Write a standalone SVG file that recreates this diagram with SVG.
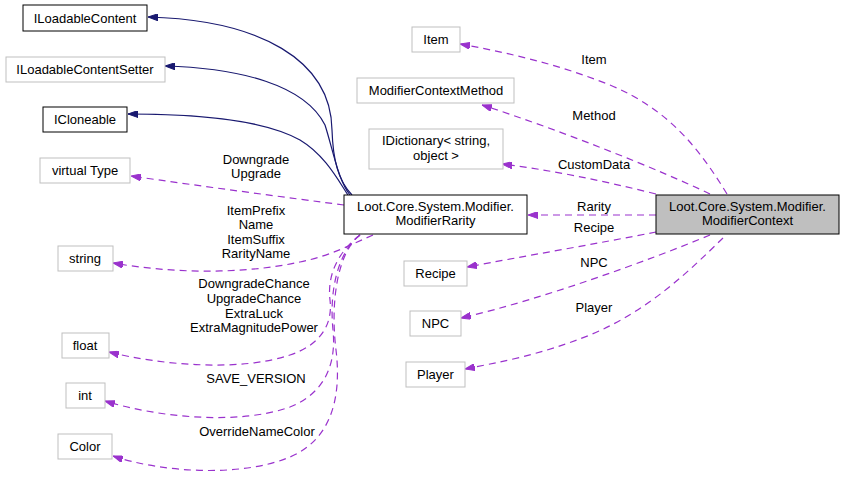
<svg xmlns="http://www.w3.org/2000/svg" width="845" height="478" viewBox="0 0 845 478">
<defs>
<style>
text{font-family:"Liberation Sans",Arial,sans-serif;font-size:13px;fill:#000;text-anchor:middle}
.n{fill:#fff;stroke:#000;stroke-width:1}
.g{fill:#fff;stroke:#bfbfbf;stroke-width:1}
.cur{fill:#bfbfbf;stroke:#000;stroke-width:1}
.inh{fill:none;stroke:#191970;stroke-width:1.2;marker-end:url(#ah)}
.use{fill:none;stroke:#9a32cd;stroke-width:1.2;stroke-dasharray:7,5;marker-end:url(#ap)}
</style>
<marker id="ah" viewBox="0 0 10 7" refX="10" refY="3.5" markerWidth="10" markerHeight="7" markerUnits="userSpaceOnUse" orient="auto"><path d="M0,0 L10,3.5 L0,7 z" fill="#191970" stroke="#191970"/></marker>
<marker id="ap" viewBox="0 0 10 7" refX="10" refY="3.5" markerWidth="10" markerHeight="7" markerUnits="userSpaceOnUse" orient="auto"><path d="M0,0 L10,3.5 L0,7 z" fill="#9a32cd" stroke="#9a32cd"/></marker>
</defs>
<rect width="845" height="478" fill="#fff"/>
<g id="edges">
<path class="inh" d="M352,195 C338,180 333,160 332,130 C331,60 260,20 148,17"/>
<path class="inh" d="M350,195 C338,180 333,150 325,125 C305,85 240,68 165,66"/>
<path class="inh" d="M348,195 C338,180 325,155 300,140 C260,118 190,114 128,114"/>
<path class="use" d="M344,205 C290,198 200,186 131,176"/>
<path class="use" d="M373,235 C350,245 330,256 300,262 C240,275 170,273 113,263"/>
<path class="use" d="M360,235 C338,252 327,275 330,300 C333,325 320,345 290,355 C240,372 160,365 109,352"/>
<path class="use" d="M360,235 C338,252 329,290 333,330 C337,370 320,395 290,407 C240,425 160,418 105,401"/>
<path class="use" d="M360,235 C338,252 330,300 336,350 C342,400 330,440 290,457 C240,478 160,472 113,456"/>
<path class="use" d="M727,194 C700,150 670,110 610,85 C560,65 510,53 460,44"/>
<path class="use" d="M710,194 C660,170 560,130 482,105"/>
<path class="use" d="M656,194 C600,180 550,170 502,164"/>
<path class="use" d="M656,215 L528,215"/>
<path class="use" d="M656,232 C600,243 520,257 467,267"/>
<path class="use" d="M710,235 C650,260 540,300 461,318"/>
<path class="use" d="M723,238 C690,270 650,310 590,335 C540,355 500,362 465,369"/>
<text x="256" y="164">Downgrade</text><text x="256" y="178">Upgrade</text>
<text x="256" y="215">ItemPrefix</text><text x="256" y="229">Name</text><text x="256" y="244">ItemSuffix</text><text x="256" y="258">RarityName</text>
<text x="254" y="288">DowngradeChance</text><text x="254" y="303">UpgradeChance</text><text x="254" y="318">ExtraLuck</text><text x="254" y="332">ExtraMagnitudePower</text>
<text x="256" y="383">SAVE_VERSION</text>
<text x="257" y="436">OverrideNameColor</text>
<text x="594" y="64">Item</text>
<text x="594" y="120">Method</text>
<text x="594" y="169">CustomData</text>
<text x="594" y="211">Rarity</text>
<text x="594" y="232">Recipe</text>
<text x="594" y="267">NPC</text>
<text x="594" y="312">Player</text>
</g>
<g id="ILoadableContent"><rect class="n" x="23" y="5" width="124" height="26"/><text x="85" y="23">ILoadableContent</text></g>
<g id="ILoadableContentSetter"><rect class="g" x="6" y="57" width="159" height="25"/><text x="85" y="74">ILoadableContentSetter</text></g>
<g id="ICloneable"><rect class="n" x="43" y="107" width="84" height="25"/><text x="85" y="124">ICloneable</text></g>
<g id="virtualType"><rect class="g" x="40" y="158" width="90" height="25"/><text x="85" y="175">virtual Type</text></g>
<g id="string"><rect class="g" x="58" y="246" width="55" height="25"/><text x="85" y="263">string</text></g>
<g id="float"><rect class="g" x="62" y="333" width="47" height="25"/><text x="85" y="350">float</text></g>
<g id="int"><rect class="g" x="66" y="383" width="39" height="25"/><text x="85" y="400">int</text></g>
<g id="Color"><rect class="g" x="58" y="434" width="54" height="25"/><text x="85" y="451">Color</text></g>
<g id="Item"><rect class="g" x="412" y="27" width="48" height="25"/><text x="436" y="44">Item</text></g>
<g id="ModifierContextMethod"><rect class="g" x="357" y="78" width="157" height="25"/><text x="436" y="95">ModifierContextMethod</text></g>
<g id="IDictionary"><rect class="g" x="369" y="129" width="134" height="40"/><text x="436" y="145">IDictionary&lt; string,</text><text x="436" y="160">object &gt;</text></g>
<g id="ModifierRarity"><rect class="n" x="344" y="195" width="183" height="39"/><text x="435.5" y="211">Loot.Core.System.Modifier.</text><text x="435.5" y="225">ModifierRarity</text></g>
<g id="ModifierContext"><rect class="cur" x="656" y="195" width="183" height="39"/><text x="747.5" y="211">Loot.Core.System.Modifier.</text><text x="747.5" y="225">ModifierContext</text></g>
<g id="Recipe"><rect class="g" x="404" y="261" width="63" height="25"/><text x="435.5" y="278">Recipe</text></g>
<g id="NPC"><rect class="g" x="410" y="311" width="51" height="25"/><text x="435.5" y="328">NPC</text></g>
<g id="Player"><rect class="g" x="406" y="362" width="59" height="25"/><text x="435.5" y="379">Player</text></g>
</svg>
